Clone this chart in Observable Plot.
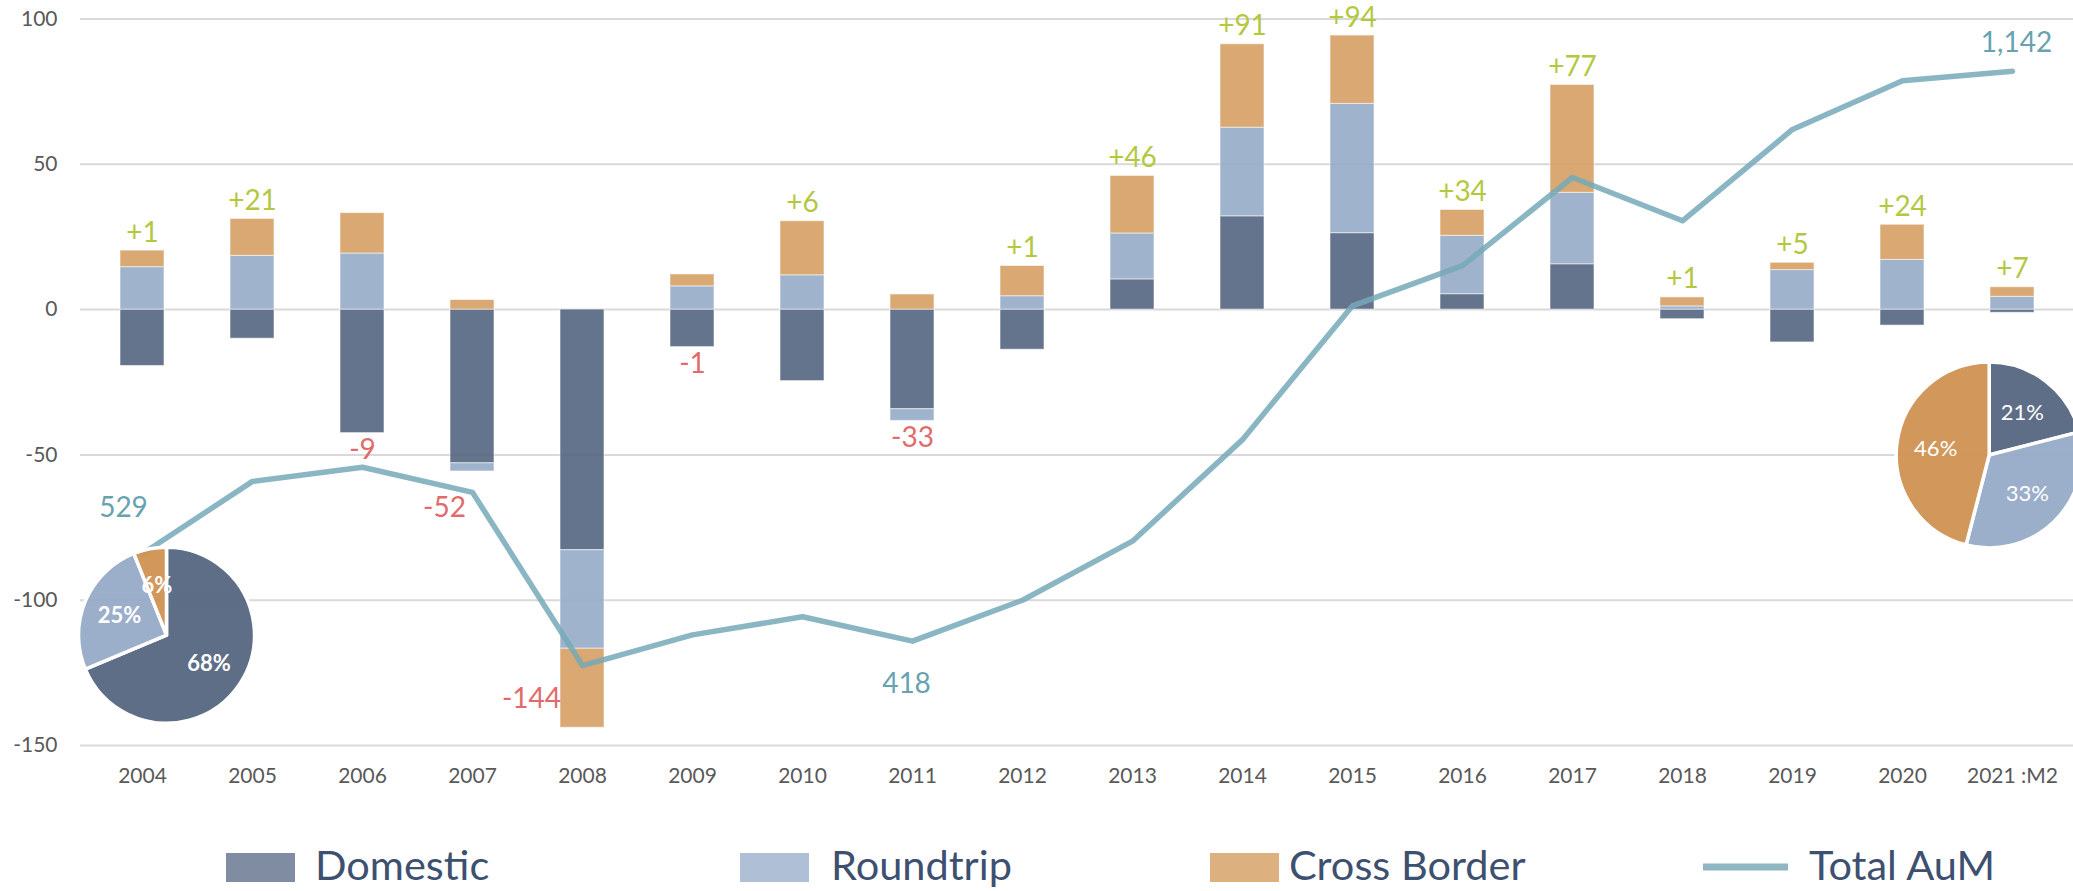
<!DOCTYPE html>
<html>
<head>
<meta charset="utf-8">
<script src="https://cdn.jsdelivr.net/npm/d3@7"></script>
<script src="https://cdn.jsdelivr.net/npm/@observablehq/plot@0.6"></script>
<style>
  html, body { margin: 0; padding: 0; background: #fff; }
  #chart { width: 2073px; }
  #chart svg { display: block; }
</style>
</head>
<body>
<div id="chart"></div>
<script>
// ---------------- data ----------------
const years = ["2004","2005","2006","2007","2008","2009","2010","2011","2012",
               "2013","2014","2015","2016","2017","2018","2019","2020","2021 :M2"];
const seriesNames = ["Domestic", "Roundtrip", "Cross Border"];
const domestic    = [-19.4, -10.0, -42.5, -52.9, -82.8, -12.9, -24.6, -34.3, -13.8, 10.4, 32.1, 26.3,  5.3, 15.6, -3.3, -11.3, -5.5, -1.1];
const roundtrip   = [ 14.6,  18.5,  19.3,  -2.8, -33.9,   8.0,  11.8,  -4.0,   4.6, 15.8, 30.5, 44.5, 20.1, 24.6,  1.1,  13.6, 17.1,  4.4];
const crossBorder = [  5.7,  12.7,  13.9,   3.3, -27.2,   4.1,  18.6,   5.2,  10.4, 19.8, 28.7, 23.5,  8.9, 37.1,  3.1,   2.5, 12.1,  3.3];
const totalAuM    = [529, 621, 639, 607, 387, 426, 449, 418, 470, 545, 674, 844, 895, 1007, 952, 1068, 1130, 1142];
const aumLabelYears = ["2004", "2011", "2021 :M2"];
const pieFirst  = [68, 25, 6];   // 2004 mix (%)
const pieLatest = [21, 33, 46];  // 2021 mix (%)
const yTicks = [-150, -100, -50, 0, 50, 100];

// ---------------- styles ----------------
const barColors = ["#4f617c", "#93a8c6", "#d59d60"];
const pieColors = ["#52637e", "#93a8c6", "#cf904f"];
const legendColors = ["#7f8ca1", "#afc0d6", "#dcb07f"];
const lineColor = "#74a9b7";
const posColor = "#b4c83f";
const negColor = "#e26a6a";
const aumColor = "#67a2b0";
const FONT = "Lato, 'Open Sans', sans-serif";

// secondary axis (Total AuM) expressed on the primary scale
const aumToPrimary = a => 0.27089 * a - 227.33;

// ---------------- derived tables ----------------
const seriesValues = [domestic, roundtrip, crossBorder];
const barRows = years.flatMap((year, i) =>
  seriesNames.map((s, k) => ({year, series: s, value: seriesValues[k][i]})));

const netRows = years.map((year, i) => {
  const vals = seriesValues.map(v => v[i]);
  const net = d3.sum(vals);
  const top = d3.sum(vals.filter(v => v > 0));
  const bottom = d3.sum(vals.filter(v => v < 0));
  const r = Math.round(net);
  return {year, net, anchor: net >= 0 ? top : bottom,
          label: (net >= 0 ? "+" : "-") + Math.abs(r)};
});

const aumRows = years.map((year, i) => ({year, aum: totalAuM[i], y: aumToPrimary(totalAuM[i])}));

// label placement (layout)
const netShift = {"2007": [-28, 37], "2008": [-51, -29]};
const aumShift = {"2004": [-19, -46], "2011": [-6, 43], "2021 :M2": [4, -28]};

const netMarks = netRows.map(d => {
  const [dx, dy] = netShift[d.year] || (d.net >= 0 ? [0, -18] : [0, 17]);
  return Plot.text([d], {x: "year", y: "anchor", text: "label", dx, dy,
    fill: d.net >= 0 ? posColor : negColor, fontSize: 28, fontFamily: FONT});
});

const aumMarks = aumRows.filter(d => aumLabelYears.includes(d.year)).map(d => {
  const [dx, dy] = aumShift[d.year];
  return Plot.text([d], {x: "year", y: "y", text: d => d3.format(",")(d.aum), dx, dy,
    fill: aumColor, fontSize: 28, fontFamily: FONT});
});

const chart = Plot.plot({
  width: 2073,
  height: 810,
  marginLeft: 80,
  marginRight: 0,
  marginTop: 18.5,
  marginBottom: 65,
  style: {fontFamily: FONT, fontSize: "21px", background: "#fff", color: "#595959"},
  x: {domain: years, paddingInner: 0.603, paddingOuter: 0.303, label: null},
  y: {domain: [-150, 100], label: null},
  color: {domain: seriesNames, range: barColors},
  marks: [
    Plot.ruleY(yTicks, {stroke: "#d9d9d9", strokeWidth: 2}),
    Plot.axisY({ticks: yTicks, tickSize: 0, tickPadding: 23, fontSize: 21,
                color: "#595959", tickFormat: d => String(d), label: null}),
    Plot.axisX({tickSize: 0, tickPadding: 23, fontSize: 21, color: "#595959", label: null}),
    Plot.barY(barRows, {x: "year", y: "value", fill: "series", fillOpacity: 0.88,
                        stroke: "#fff", strokeWidth: 1, strokeOpacity: 0.55}),
    Plot.line(aumRows, {x: "year", y: "y", stroke: lineColor, strokeOpacity: 0.85,
                        strokeWidth: 5.5, strokeLinecap: "round", strokeLinejoin: "round"}),
    ...netMarks,
    ...aumMarks
  ]
});

// ---------------- pies (inset, positioned through the chart's scales) ----------------
const xs = chart.scale("x"), ys = chart.scale("y");
function drawPie(values, year, dx, yValue, r, bold) {
  const cx = xs.apply(year) + xs.bandwidth / 2 + dx;
  const cy = ys.apply(yValue);
  const g = d3.select(chart).append("g").attr("transform", `translate(${cx},${cy})`);
  const arcs = d3.pie().sort(null)(values);
  const arc = d3.arc().innerRadius(0).outerRadius(r);
  g.selectAll("path").data(arcs).join("path")
    .attr("d", arc)
    .attr("fill", (d, i) => pieColors[i])
    .attr("fill-opacity", 0.93)
    .attr("stroke", "#fff")
    .attr("stroke-width", 3.5)
    .attr("stroke-linejoin", "round");
  const la = d3.arc().innerRadius(r * 0.58).outerRadius(r * 0.58);
  g.selectAll("text").data(arcs).join("text")
    .attr("transform", d => `translate(${la.centroid(d)})`)
    .attr("text-anchor", "middle")
    .attr("dy", "0.36em")
    .attr("fill", "#fff")
    .attr("font-family", FONT)
    .attr("font-size", 22)
    .attr("font-weight", bold ? 700 : 400)
    .text(d => d.data + "%");
}
drawPie(pieFirst, "2004", 24.5, -112.2, 88, true);
drawPie(pieLatest, "2021 :M2", -22.8, -50.2, 93, false);

document.getElementById("chart").appendChild(chart);

// ---------------- legend ----------------
const legendItems = [
  {name: "Domestic",     kind: "rect", color: legendColors[0], sx: 226,  tx: 315},
  {name: "Roundtrip",    kind: "rect", color: legendColors[1], sx: 740,  tx: 831},
  {name: "Cross Border", kind: "rect", color: legendColors[2], sx: 1210, tx: 1289},
  {name: "Total AuM",    kind: "line", color: "#8fb7c2",        sx: 1703, tx: 1809}
];
const leg = d3.create("svg").attr("width", 2073).attr("height", 81)
  .style("display", "block").style("font-family", FONT);
for (const it of legendItems) {
  if (it.kind === "rect") {
    leg.append("rect").attr("x", it.sx).attr("y", 43).attr("width", 69).attr("height", 29).attr("fill", it.color);
  } else {
    leg.append("rect").attr("x", it.sx).attr("y", 53.5).attr("width", 85).attr("height", 7).attr("fill", it.color);
  }
  leg.append("text").attr("x", it.tx).attr("y", 70).attr("font-size", 41.5)
    .attr("fill", "#3d5070").text(it.name);
}
document.getElementById("chart").appendChild(leg.node());
</script>
</body>
</html>
